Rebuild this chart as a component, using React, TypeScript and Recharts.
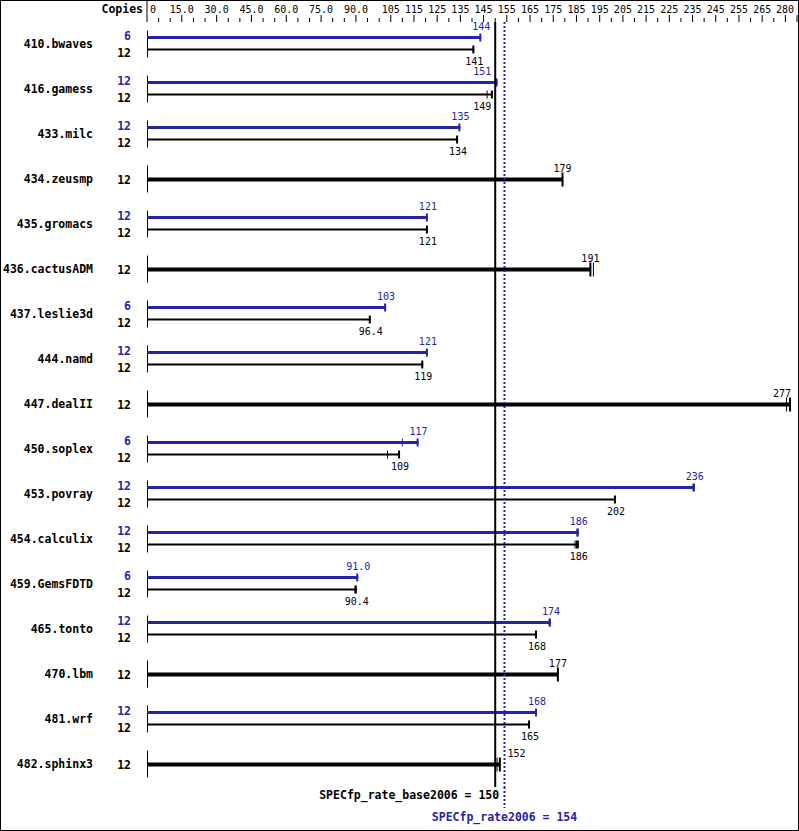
import { BarChart, Bar, XAxis, YAxis, ReferenceLine } from "recharts";

const benchmarks = [
  "410.bwaves",
  "416.gamess",
  "433.milc",
  "434.zeusmp",
  "435.gromacs",
  "436.cactusADM",
  "437.leslie3d",
  "444.namd",
  "447.dealII",
  "450.soplex",
  "453.povray",
  "454.calculix",
  "459.GemsFDTD",
  "465.tonto",
  "470.lbm",
  "481.wrf",
  "482.sphinx3",
];

// peak (blue) — null where only one result is shown
const peakCopies = [6, 12, 12, null, 12, null, 6, 12, null, 6, 12, 12, 6, 12, null, 12, null];
const peakRatios = [144, 151, 135, null, 121, null, 103, 121, null, 117, 236, 186, 91.0, 174, null, 168, null];
const peakOtherRuns = [[], [], [], [], [], [], [], [], [], [110], [235.2], [185.2], [], [173.2], [], [], []];

// base (black)
const baseCopies = [12, 12, 12, 12, 12, 12, 12, 12, 12, 12, 12, 12, 12, 12, 12, 12, 12];
const baseRatios = [141, 149, 134, 179, 121, 191, 96.4, 119, 277, 109, 202, 186, 90.4, 168, 177, 165, 152];
const baseOtherRuns = [[], [146.5], [], [], [], [192.3], [], [], [275.5], [103.6], [], [185, 184.4], [89.6], [], [], [], [150.8]];

const baseScore = 150;
const peakScore = 154;

const axisTicks: number[] = [];
for (let v = 0; v <= 280; v += 5) axisTicks.push(v);

const BLUE = "#2424a8";
const FONT = "'DejaVu Sans Mono', monospace";

const data = benchmarks.map((name, i) => ({
  name,
  base: baseRatios[i],
  peak: peakRatios[i],
  baseCopies: baseCopies[i],
  peakCopies: peakCopies[i],
  baseOther: baseOtherRuns[i],
  peakOther: peakOtherRuns[i],
}));

const fmt = (v: number) => (v < 100 ? v.toFixed(1) : String(Math.round(v)));

const isMajor = (v: number) => (v <= 105 ? v % 15 === 0 : v % 10 === 5 || v === 280);

const AxisTick = (props: any) => {
  const { x, y, payload } = props;
  const v = payload.value;
  const major = isMajor(v);
  const showLabel = major && v !== 275;
  let label = "";
  if (v === 0) label = "0";
  else if (v <= 90) label = v.toFixed(1);
  else label = String(v);
  return (
    <g>
      <line x1={x} x2={x} y1={v === 0 ? 0 : y - (major ? 7 : 4)} y2={y} stroke="#000" />
      {v === 0 && (
        <text x={x - 4} y={y - 9} textAnchor="end" fontFamily={FONT} fontSize={11.5} fontWeight="bold" fill="#000">
          Copies
        </text>
      )}
      {showLabel && (
        <text
          x={v === 0 ? x + 3 : v === 280 ? x - 3 : x}
          y={y - 9}
          textAnchor={v === 0 ? "start" : v === 280 ? "end" : "middle"}
          fontFamily={FONT}
          fontSize={10}
          fill="#000"
        >
          {label}
        </text>
      )}
    </g>
  );
};

const NameTick = (props: any) => {
  const { x, y, index } = props;
  const row = data[index];
  const single = row.peak == null;
  return (
    <g fontFamily={FONT} fontSize={11.5} fontWeight="bold">
      <text x={x - 54} y={y + 3} textAnchor="end" fill="#000">
        {row.name}
      </text>
      {single ? (
        <text x={x - 16} y={y + 4} textAnchor="end" fill="#000">
          {row.baseCopies}
        </text>
      ) : (
        <>
          <text x={x - 16} y={y - 5} textAnchor="end" fill={BLUE}>
            {row.peakCopies}
          </text>
          <text x={x - 16} y={y + 12} textAnchor="end" fill="#000">
            {row.baseCopies}
          </text>
        </>
      )}
    </g>
  );
};

// keep value labels clear of the two score lines
const placeLabel = (end: number, text: string, lineL: number, lineR: number, pushRight: boolean) => {
  const hw = (text.length * 6) / 2;
  let cx = Math.min(end, 782);
  if (cx + hw > lineL - 3 && cx - hw < lineR + 3) {
    cx = pushRight ? lineR + 3 + hw : lineL - 4 - hw;
  }
  return cx;
};

const RowMarks = (props: any) => {
  const { x, y, width, height, payload } = props;
  const cy = y + height / 2;
  const ppu = width / payload.base;
  const px = (v: number) => x + v * ppu;
  const single = payload.peak == null;
  const lineL = px(baseScore);
  const lineR = px(peakScore);

  if (single) {
    const end = px(payload.base);
    const txt = fmt(payload.base);
    const lx = placeLabel(end, txt, lineL, lineR, true);
    return (
      <g>
        <line x1={x + 0.5} x2={x + 0.5} y1={cy - 14} y2={cy + 13} stroke="#000" />
        <rect x={x} y={cy - 2} width={end - x} height={4} fill="#000" />
        <rect x={end - 1} y={cy - 7} width={2} height={14} fill="#000" />
        {payload.baseOther.map((v: number, k: number) => (
          <line key={k} x1={px(v)} x2={px(v)} y1={cy - 7} y2={cy + 7} stroke="#000" />
        ))}
        <text x={lx} y={cy - 7.5} textAnchor="middle" fontFamily={FONT} fontSize={10} fill="#000">
          {txt}
        </text>
      </g>
    );
  }

  const by = cy - 7;
  const ky = cy + 5;
  const pEnd = px(payload.peak);
  const bEnd = px(payload.base);
  const pTxt = fmt(payload.peak);
  const bTxt = fmt(payload.base);
  return (
    <g>
      <line x1={x + 0.5} x2={x + 0.5} y1={cy - 14} y2={cy + 13} stroke="#000" />
      <rect x={x} y={by - 1.5} width={pEnd - x} height={3} fill={BLUE} />
      <rect x={pEnd - 2} y={by - 4} width={2} height={8} fill={BLUE} />
      {payload.peakOther.map((v: number, k: number) => (
        <line key={k} x1={px(v)} x2={px(v)} y1={by - 4} y2={by + 4} stroke={BLUE} />
      ))}
      <text
        x={placeLabel(pEnd, pTxt, lineL, lineR, false)}
        y={by - 8}
        textAnchor="middle"
        fontFamily={FONT}
        fontSize={10}
        fill={BLUE}
      >
        {pTxt}
      </text>
      <rect x={x} y={ky - 1} width={bEnd - x} height={2} fill="#000" />
      <rect x={bEnd - 2} y={ky - 4} width={2} height={8} fill="#000" />
      {payload.baseOther.map((v: number, k: number) => (
        <line key={k} x1={px(v)} x2={px(v)} y1={ky - 4} y2={ky + 4} stroke="#000" />
      ))}
      <text
        x={placeLabel(bEnd, bTxt, lineL, lineR, false)}
        y={ky + 15}
        textAnchor="middle"
        fontFamily={FONT}
        fontSize={10}
        fill="#000"
      >
        {bTxt}
      </text>
    </g>
  );
};

const App = () => {
  return (
    <div style={{ position: "absolute", left: 0, top: 0, width: 799, height: 831, background: "#fff" }}>
      <BarChart
        width={799}
        height={831}
        data={data}
        layout="vertical"
        barCategoryGap={0}
        margin={{ top: 0, right: 2, left: 0, bottom: 44 }}
      >
        <XAxis
          type="number"
          orientation="top"
          domain={[0, 280]}
          ticks={axisTicks}
          interval={0}
          height={22}
          axisLine={false}
          tickLine={false}
          tickSize={0}
          tickMargin={0}
          tick={<AxisTick />}
        />
        <YAxis
          type="category"
          dataKey="name"
          width={147}
          interval={0}
          axisLine={false}
          tickLine={false}
          tickSize={0}
          tickMargin={0}
          tick={<NameTick />}
        />
        <Bar dataKey="base" isAnimationActive={false} shape={<RowMarks />} />
        <ReferenceLine
          x={baseScore}
          stroke="#000"
          strokeWidth={2}
          label={(p: any) => {
            const vb = p.viewBox;
            return (
              <text
                x={vb.x + 4}
                y={vb.y + vb.height + 12}
                textAnchor="end"
                fontFamily={FONT}
                fontSize={11.5}
                fontWeight="bold"
                fill="#000"
              >
                {`SPECfp_rate_base2006 = ${baseScore}`}
              </text>
            );
          }}
        />
        <ReferenceLine
          x={peakScore}
          stroke={BLUE}
          strokeWidth={2}
          strokeDasharray="2 2"
          label={(p: any) => {
            const vb = p.viewBox;
            const bottom = vb.y + vb.height;
            return (
              <g>
                <line x1={vb.x} x2={vb.x} y1={bottom} y2={bottom + 21} stroke={BLUE} strokeWidth={2} strokeDasharray="2 2" />
                <text
                  x={vb.x}
                  y={bottom + 34}
                  textAnchor="middle"
                  fontFamily={FONT}
                  fontSize={11.5}
                  fontWeight="bold"
                  fill={BLUE}
                >
                  {`SPECfp_rate2006 = ${peakScore}`}
                </text>
              </g>
            );
          }}
        />
      </BarChart>
      <div
        style={{
          position: "absolute",
          left: 0,
          top: 0,
          width: 799,
          height: 831,
          boxSizing: "border-box",
          border: "1px solid #000",
          pointerEvents: "none",
        }}
      />
    </div>
  );
};

export default App;
